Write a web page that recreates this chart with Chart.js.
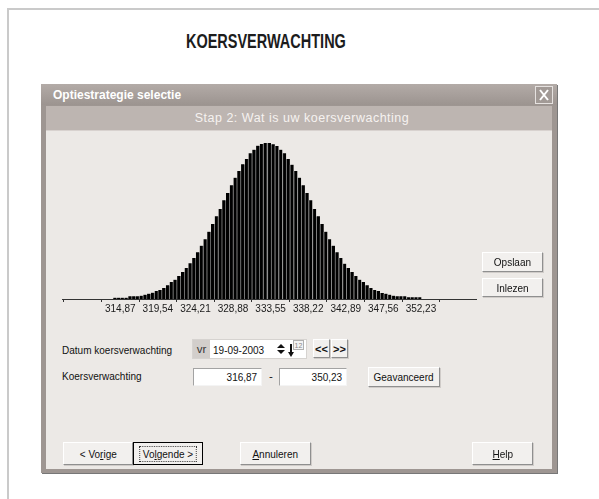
<!DOCTYPE html>
<html>
<head>
<meta charset="utf-8">
<script src="https://cdn.jsdelivr.net/npm/chart.js@4.4.0/dist/chart.umd.min.js"></script>
<style>
  html, body { margin: 0; padding: 0; background: #fff; width: 599px; height: 499px; overflow: hidden; }
  .abs { position: absolute; }
  #page { left: 7px; top: 8px; width: 640px; height: 600px; border-left: 2px solid #cacaca; border-top: 2px solid #cacaca; }
  #title { left: 0; top: 30px; width: 532px; text-align: center; font: bold 21px/22px "Liberation Sans", sans-serif; color: #1c1c1c; }
  #title span { display: inline-block; transform: scaleX(0.69); transform-origin: center; }
  #dlg { left: 41px; top: 84px; width: 516px; height: 389px; background: #9e9692; box-shadow: 1px 1px 0 #777; }
  #titlebar { left: 41px; top: 84px; width: 516px; height: 21px; background: linear-gradient(#b3aba7, #9c9490); }
  #titletext { left: 53px; top: 88px; font: bold 12px/14px "Liberation Sans", sans-serif; color: #fff; }
  #close { left: 535px; top: 86px; width: 16px; height: 16px; border: 1px solid #e6e2e0; background: #a29a96; }
  #band { left: 46px; top: 106px; width: 506px; height: 24px; background: #bdb5b1; border-bottom: 1px solid #d8d2cf; }
  #bandtext { left: 52px; top: 111px; width: 500px; text-align: center; font: 12.5px/14px "Liberation Sans", sans-serif; letter-spacing: 0.5px; color: #f6f2f0; }
  #body { left: 46px; top: 131px; width: 506px; height: 338px; background: #ece9e6; }
  #chartbox { left: 50px; top: 131px; width: 440px; height: 190px; }
  .lbl { font: 11.5px/14px "Liberation Sans", sans-serif; color: #111; white-space: nowrap; }
  .n { display: inline-block; transform: scaleX(0.87); transform-origin: left; }
  .btn .n { transform-origin: center; }
  .inp .n { transform-origin: right; }
  .btn { background: #f2f0ee; border-top: 1px solid #fff; border-left: 1px solid #fff; border-right: 1px solid #8f8f8f; border-bottom: 1px solid #8f8f8f; box-shadow: 1px 1px 0 #d0ccc9; box-sizing: border-box; text-align: center; font: 11.5px "Liberation Sans", sans-serif; color: #111; display: flex; align-items: center; justify-content: center; white-space: nowrap; }
  .inp { background: #fff; border-top: 1px solid #a3a3a3; border-left: 1px solid #a3a3a3; border-right: 1px solid #f4f4f4; border-bottom: 1px solid #f4f4f4; box-sizing: border-box; font: 11.5px/16px "Liberation Sans", sans-serif; color: #111; text-align: right; padding-right: 4px; }
  u { text-decoration: underline; }
</style>
</head>
<body>
<div id="page" class="abs"></div>
<div id="title" class="abs"><span>KOERSVERWACHTING</span></div>

<div id="dlg" class="abs"></div>
<div id="titlebar" class="abs"></div>
<div id="titletext" class="abs">Optiestrategie selectie</div>
<div id="close" class="abs">
  <svg width="16" height="16"><path d="M4 3 L12 13 M12 3 L4 13" stroke="#fff" stroke-width="2"/></svg>
</div>
<div id="band" class="abs"></div>
<div id="bandtext" class="abs">Stap 2: Wat is uw koersverwachting</div>
<div id="body" class="abs"></div>

<div id="chartbox" class="abs"><canvas id="myChart" width="440" height="190"></canvas></div>

<div class="abs btn" style="left:482px;top:252px;width:61px;height:20px;"><span class="n">Opslaan</span></div>
<div class="abs btn" style="left:482px;top:278px;width:61px;height:19px;"><span class="n">Inlezen</span></div>

<div class="abs lbl" style="left:62px;top:343px;"><span class="n">Datum koersverwachting</span></div>
<div class="abs lbl" style="left:62px;top:369px;"><span class="n">Koersverwachting</span></div>

<!-- datum veld -->
<div class="abs" style="left:192px;top:339px;width:115px;height:20px;background:#fff;border:1px solid #d6d3d0;box-sizing:border-box;"></div>
<div class="abs lbl" style="left:193px;top:340px;width:17px;height:18px;background:#d2cecb;color:#333;text-align:center;line-height:18px;">vr</div>
<div class="abs lbl" style="left:213px;top:343px;"><span class="n">19-09-2003</span></div>
<svg class="abs" style="left:276px;top:342px;" width="10" height="14">
  <path d="M1 6 L5 2 L9 6 Z M1 8 L5 12 L9 8 Z" fill="#111"/>
</svg>
<svg class="abs" style="left:287px;top:340px;" width="17" height="18">
  <rect x="6.5" y="0.5" width="10" height="9" fill="#f4f4f4" stroke="#b0b0b0"/>
  <text x="7.5" y="8" font-family="Liberation Sans" font-size="7" fill="#888">12</text>
  <path d="M4 4 L4 13" stroke="#111" stroke-width="2"/>
  <path d="M1 12 L4 17 L7 12 Z" fill="#111"/>
</svg>
<div class="abs btn" style="left:313px;top:339px;width:17px;height:19px;font-weight:bold;font-size:11px;">&lt;&lt;</div>
<div class="abs btn" style="left:331px;top:339px;width:17px;height:19px;font-weight:bold;font-size:11px;">&gt;&gt;</div>

<div class="abs inp" style="left:193px;top:368px;width:69px;height:18px;"><span class="n">316,87</span></div>
<div class="abs lbl" style="left:269px;top:369px;">-</div>
<div class="abs inp" style="left:279px;top:368px;width:68px;height:18px;"><span class="n">350,23</span></div>
<div class="abs btn" style="left:368px;top:367px;width:72px;height:20px;"><span class="n">Geavanceerd</span></div>

<div class="abs btn" style="left:63px;top:442px;width:70px;height:23px;"><span class="n">&lt; Vo<u>r</u>ige</span></div>
<div class="abs btn" style="left:133px;top:442px;width:70px;height:23px;border:1px solid #000;box-shadow:none;">
  <span class="n" style="border:1px dotted #333;padding:1px 3px;">Vo<u>l</u>gende &gt;</span>
</div>
<div class="abs btn" style="left:240px;top:442px;width:71px;height:23px;"><span class="n"><u>A</u>nnuleren</span></div>
<div class="abs btn" style="left:472px;top:442px;width:61px;height:23px;"><span class="n"><u>H</u>elp</span></div>

<script>
// bin centres of the histogram (koers)
const binCenters = [
  314.23, 314.70, 315.16, 315.63, 316.10, 316.57, 317.03, 317.50, 317.97, 318.43,
  318.90, 319.37, 319.83, 320.30, 320.77, 321.24, 321.70, 322.17, 322.64, 323.10,
  323.57, 324.04, 324.50, 324.97, 325.44, 325.91, 326.37, 326.84, 327.31, 327.77,
  328.24, 328.71, 329.17, 329.64, 330.11, 330.58, 331.04, 331.51, 331.98, 332.44,
  332.91, 333.38, 333.84, 334.31, 334.78, 335.25, 335.71, 336.18, 336.65, 337.11,
  337.58, 338.05, 338.51, 338.98, 339.45, 339.92, 340.38, 340.85, 341.32, 341.78,
  342.25, 342.72, 343.18, 343.65, 344.12, 344.59, 345.05, 345.52, 345.99, 346.45,
  346.92, 347.39, 347.85, 348.32, 348.79, 349.26, 349.72, 350.19, 350.66, 351.12,
  351.59, 352.06
];

// bar heights
const barHeights = [
  1.3, 1.3, 1.3, 1.3, 2.7, 2.7, 2.7, 3.3, 4.3, 5.3,
  6.3, 8, 9, 11, 13.7, 17, 19.3, 23, 27, 31,
  35.7, 41, 46.7, 53.3, 59.7, 67.3, 75, 82.7, 90, 98.7,
  106, 113.7, 121.3, 128, 134.7, 140, 145.7, 149.3, 153.3, 155,
  156, 156, 154.7, 153, 149.3, 145.7, 140, 134.3, 128, 121.3,
  113.7, 106, 98.7, 90, 82.7, 75, 67.3, 59.7, 53.3, 46.7,
  41, 35.3, 31, 27, 23, 19.3, 17, 13.7, 11, 9,
  8, 6, 5.3, 4.3, 3.3, 2.7, 2.7, 2.7, 1.7, 1.7,
  1.7, 1.7
];

const tickValues = [310.20, 314.87, 319.54, 324.21, 328.88, 333.55, 338.22, 342.89, 347.56, 352.23];
const tickLabels = ['', '314,87', '319,54', '324,21', '328,88', '333,55', '338,22', '342,89', '347,56', '352,23'];

const peakIndex = barHeights.indexOf(Math.max(...barHeights));

const ctx = document.getElementById('myChart').getContext('2d');
const myChart = new Chart(ctx, {
  type: 'bar',
  data: {
    datasets: [{
      data: binCenters.map((x, i) => ({x: x, y: barHeights[i]})),
      backgroundColor: '#000',
      borderColor: '#8c8c8c',
      borderWidth: c => c.dataIndex <= peakIndex
        ? {left: 0, right: 1, top: 0, bottom: 0}
        : {left: 1, right: 0, top: 0, bottom: 0},
      borderSkipped: false,
      barPercentage: 1,
      categoryPercentage: 1
    }]
  },
  options: {
    responsive: false,
    animation: false,
    layout: { padding: { left: 12, right: 14, top: 0, bottom: 0 } },
    plugins: {
      legend: { display: false },
      tooltip: { enabled: false }
    },
    scales: {
      x: {
        type: 'linear',
        min: 310.20,
        max: 356.50,
        afterBuildTicks: s => { s.ticks = tickValues.map(v => ({value: v})); },
        afterFit: s => { s.height = 22; },
        ticks: {
          autoSkip: false,
          maxRotation: 0,
          padding: 1,
          color: '#1a1a1a',
          font: { family: 'Liberation Sans', size: 10 },
          callback: (v, i) => tickLabels[i]
        },
        grid: { drawOnChartArea: false, drawTicks: true, tickLength: 3, color: '#333' },
        border: { display: true, color: '#333', width: 1 }
      },
      y: {
        display: false,
        min: 0,
        max: 168
      }
    }
  }
});
</script>
</body>
</html>
